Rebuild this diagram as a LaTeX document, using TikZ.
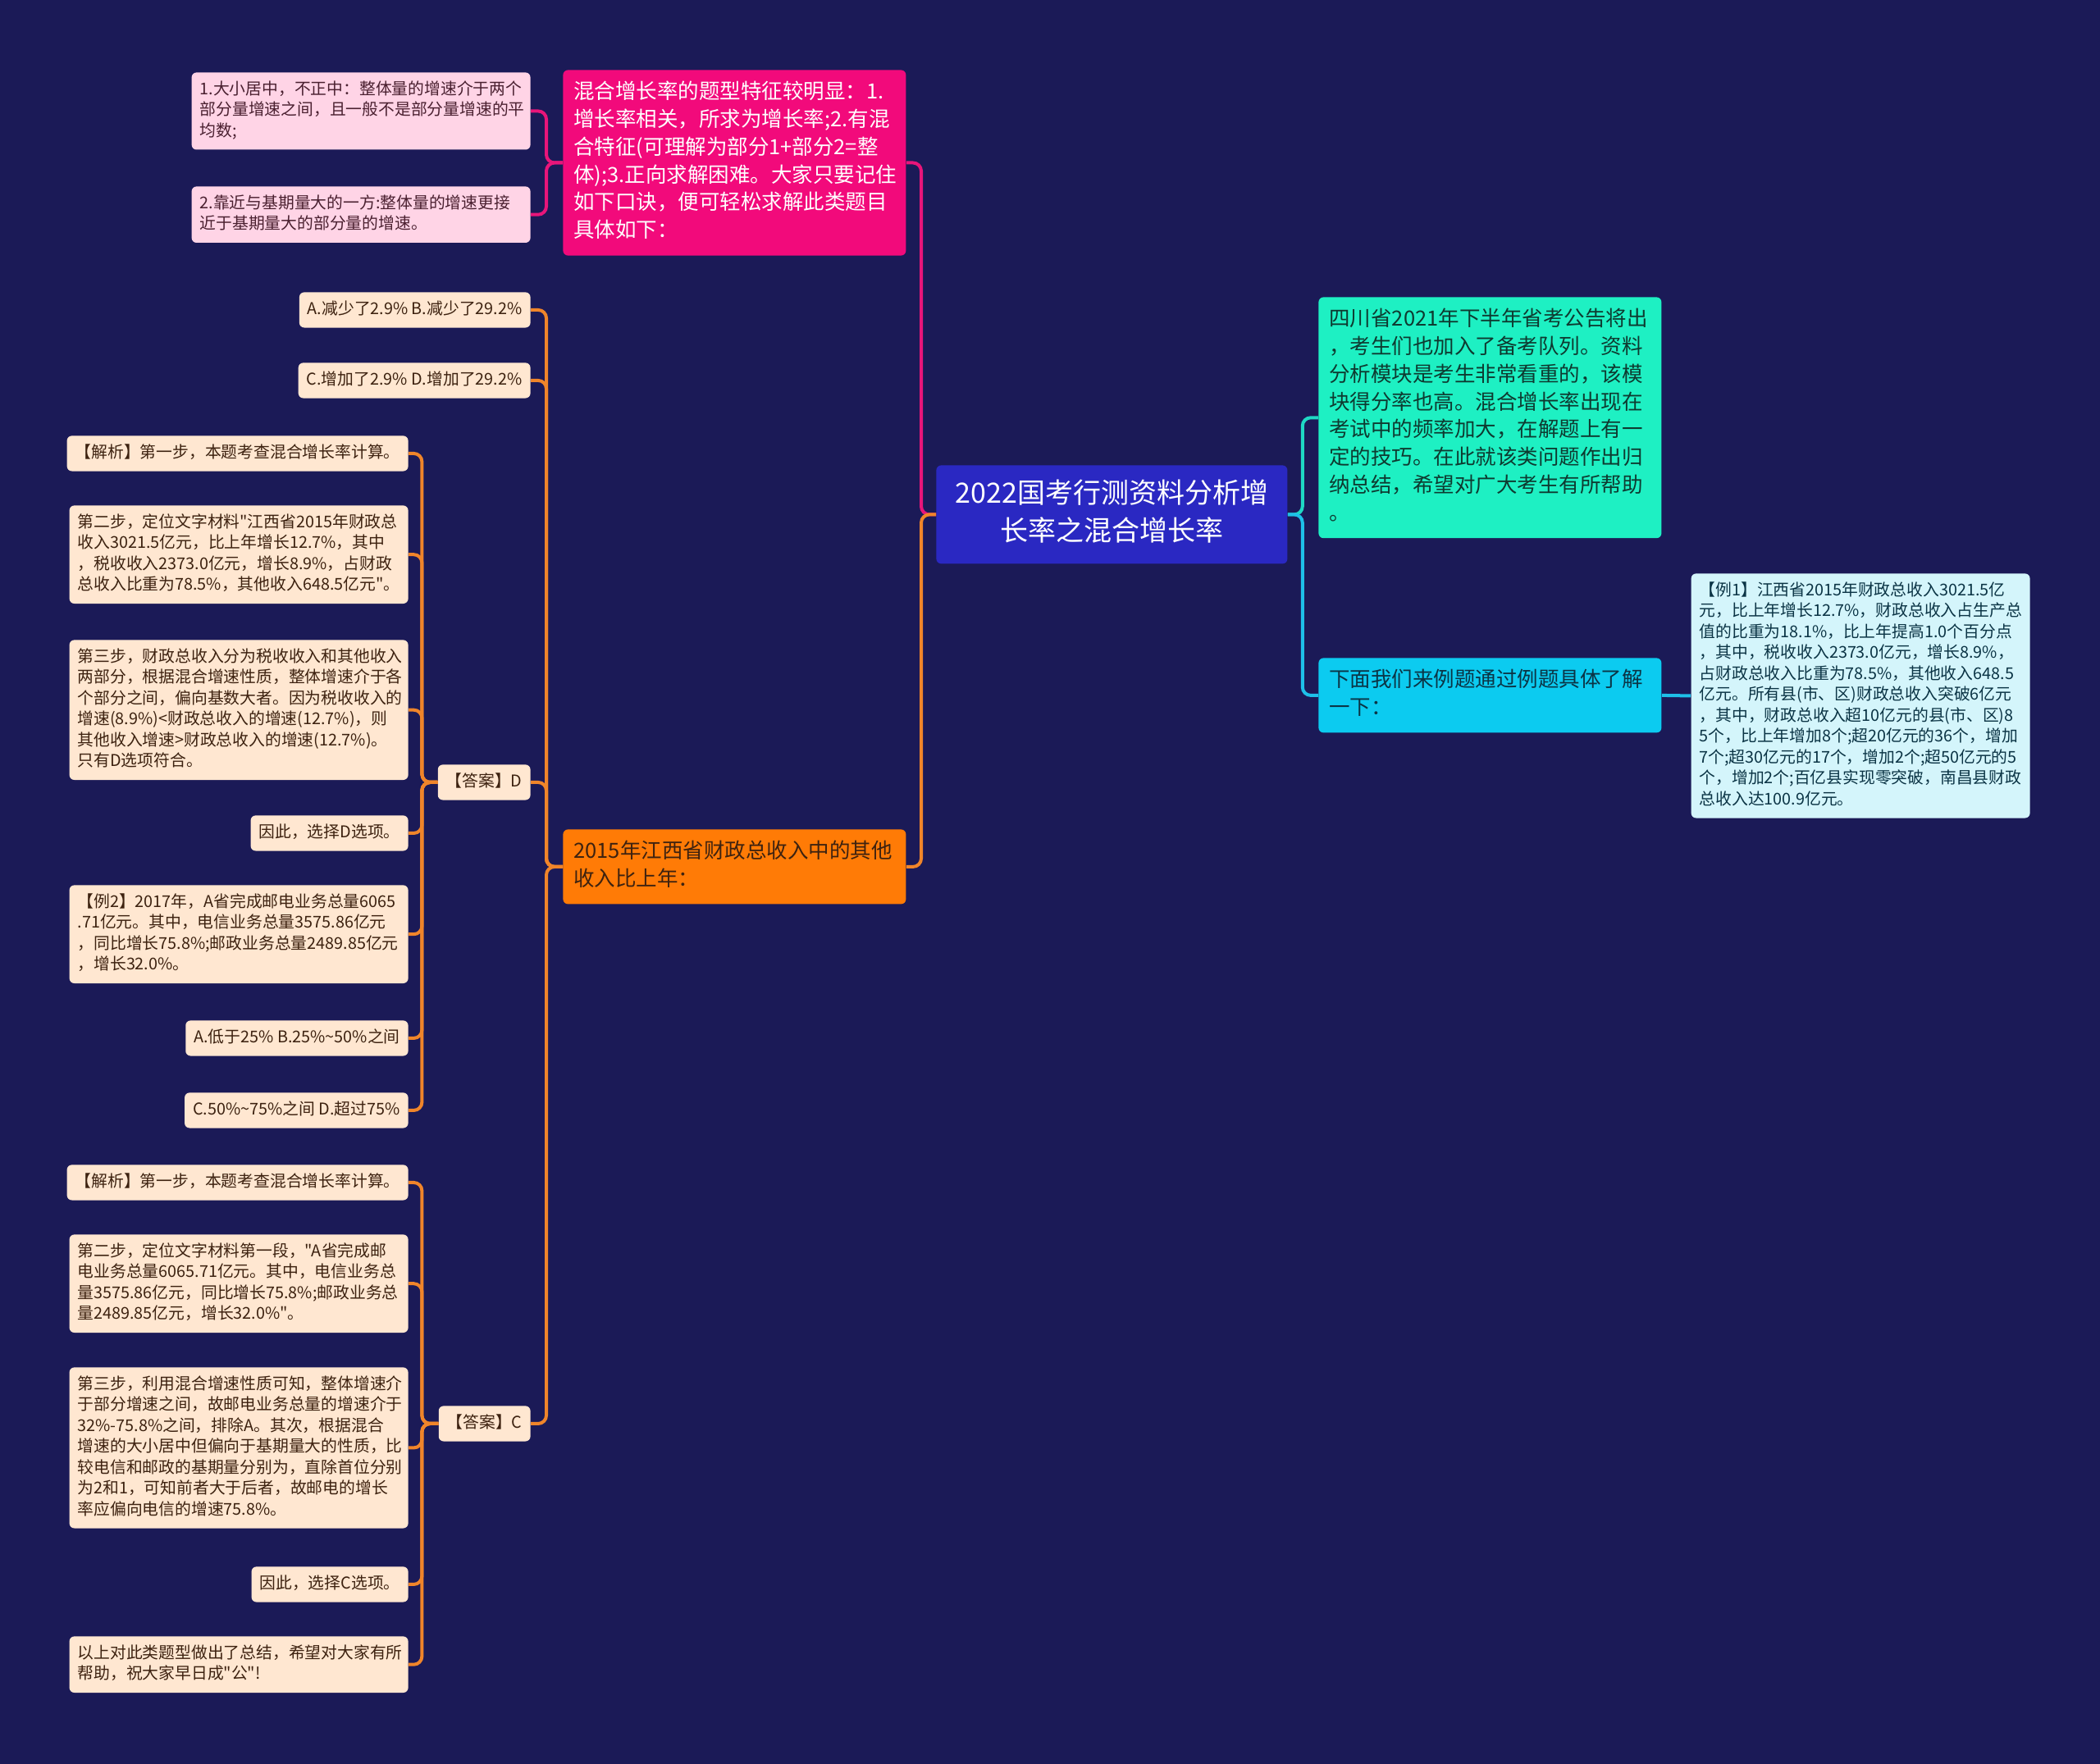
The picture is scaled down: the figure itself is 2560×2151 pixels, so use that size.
\documentclass[tikz,border=0pt]{standalone}
\usepackage{fontspec}
\setmainfont{Noto Sans CJK SC}[Ligatures=TeXOff]
\usepackage{xcolor}
\usepackage{tikz}

\definecolor{bgnavy}{HTML}{1B1A57}
\definecolor{rootblue}{HTML}{2A28C2}
\definecolor{hotpink}{HTML}{F20A7B}
\definecolor{palepink}{HTML}{FFD4E6}
\definecolor{deeporange}{HTML}{FF7B06}
\definecolor{peach}{HTML}{FFE7D1}
\definecolor{aqua}{HTML}{1EF0C3}
\definecolor{skyblue}{HTML}{0CCBF0}
\definecolor{icecyan}{HTML}{D4F5FB}
\definecolor{darkbrown}{HTML}{3D2210}
\definecolor{darkplum}{HTML}{4A2030}
\definecolor{darkteal}{HTML}{0E3A30}
\definecolor{darksea}{HTML}{0B3445}
\definecolor{pinkline}{HTML}{E8157A}
\definecolor{orangeline}{HTML}{F0852A}
\definecolor{tealline}{HTML}{1FD8C4}
\definecolor{cyanline}{HTML}{1EC0E8}

\begin{document}
\begin{tikzpicture}[
x=0.5pt, y=-0.5pt,
box/.style={rounded corners=3pt, execute at begin node=\strut, execute at end node=\strut},
big/.style={box, anchor=north west, inner xsep=6.5pt, inner ysep=5.85pt, text width=196pt, align=left, font=\fontsize{12.75pt}{16.9pt}\selectfont},
note/.style={box, anchor=north east, inner xsep=5pt, inner ysep=4.4pt, text width=196.5pt, align=left, font=\fontsize{9.9pt}{12.75pt}\selectfont},
tag/.style={box, anchor=north east, fill=peach, text=darkbrown, inner xsep=5pt, inner ysep=4.4pt, font=\fontsize{9.9pt}{12.75pt}\selectfont},
link/.style={line width=2pt, rounded corners=5pt}
]

\useasboundingbox (0,0) rectangle (2560,2151);
\fill[bgnavy] (0,0) rectangle (2560,2151);

% Centre
\node[box, anchor=north west, fill=rootblue, text=white, inner xsep=7pt, inner ysep=7.15pt, text width=200pt, align=center, font=\fontsize{17pt}{22.85pt}\selectfont] (root) at (1141,567) {2022国考行测资料分析增\\长率之混合增长率};

% Left branches
\node[big, fill=hotpink, text=white] (feature) at (686,85) {混合增长率的题型特征较明显：1.\\增长率相关，所求为增长率;2.有混\\合特征(可理解为部分1+部分2=整\\体);3.正向求解困难。大家只要记住\\如下口诀，便可轻松求解此类题目\\具体如下：};
\node[note, fill=palepink, text=darkplum] (rule1) at (647,88) {1.大小居中，不正中：整体量的增速介于两个\\部分量增速之间，且一般不是部分量增速的平\\均数;};
\node[note, fill=palepink, text=darkplum] (rule2) at (647,227) {2.靠近与基期量大的一方:整体量的增速更接\\近于基期量大的部分量的增速。};

\node[big, fill=deeporange, text=darkbrown] (other) at (686,1011) {2015年江西省财政总收入中的其他\\收入比上年：};
\node[tag] (optab) at (647,356) {A.减少了2.9\% B.减少了29.2\%};
\node[tag] (optcd) at (647,442) {C.增加了2.9\% D.增加了29.2\%};
\node[tag] (ansd) at (647,932) {【答案】D};
\node[tag] (ansc) at (647,1714) {【答案】C};

% Answer D
\node[tag] (dstep1) at (498,531) {【解析】第一步，本题考查混合增长率计算。};
\node[note, fill=peach, text=darkbrown] (dstep2) at (498,616) {第二步，定位文字材料"江西省2015年财政总\\收入3021.5亿元，比上年增长12.7\%，其中\\，税收收入2373.0亿元，增长8.9\%，占财政\\总收入比重为78.5\%，其他收入648.5亿元"。};
\node[note, fill=peach, text=darkbrown] (dstep3) at (498,780) {第三步，财政总收入分为税收收入和其他收入\\两部分，根据混合增速性质，整体增速介于各\\个部分之间，偏向基数大者。因为税收收入的\\增速(8.9\%)<财政总收入的增速(12.7\%)，则\\其他收入增速>财政总收入的增速(12.7\%)。\\只有D选项符合。};
\node[tag] (dpick) at (498,994) {因此，选择D选项。};
\node[note, fill=peach, text=darkbrown] (example2) at (498,1079) {【例2】2017年，A省完成邮电业务总量6065\\.71亿元。其中，电信业务总量3575.86亿元\\，同比增长75.8\%;邮政业务总量2489.85亿元\\，增长32.0\%。};
\node[tag] (ex2ab) at (498,1244) {A.低于25\% B.25\%\textasciitilde50\%之间};
\node[tag] (ex2cd) at (498,1332) {C.50\%\textasciitilde75\%之间 D.超过75\%};

% Answer C
\node[tag] (cstep1) at (498,1420) {【解析】第一步，本题考查混合增长率计算。};
\node[note, fill=peach, text=darkbrown] (cstep2) at (498,1505) {第二步，定位文字材料第一段，"A省完成邮\\电业务总量6065.71亿元。其中，电信业务总\\量3575.86亿元，同比增长75.8\%;邮政业务总\\量2489.85亿元，增长32.0\%"。};
\node[note, fill=peach, text=darkbrown] (cstep3) at (498,1667) {第三步，利用混合增速性质可知，整体增速介\\于部分增速之间，故邮电业务总量的增速介于\\32\%-75.8\%之间，排除A。其次，根据混合\\增速的大小居中但偏向于基期量大的性质，比\\较电信和邮政的基期量分别为，直除首位分别\\为2和1，可知前者大于后者，故邮电的增长\\率应偏向电信的增速75.8\%。};
\node[tag] (cpick) at (498,1910) {因此，选择C选项。};
\node[note, fill=peach, text=darkbrown] (summary) at (498,1995) {以上对此类题型做出了总结，希望对大家有所\\帮助，祝大家早日成"公"!};

% Right branches
\node[big, fill=aqua, text=darkteal] (intro) at (1607,362) {四川省2021年下半年省考公告将出\\，考生们也加入了备考队列。资料\\分析模块是考生非常看重的，该模\\块得分率也高。混合增长率出现在\\考试中的频率加大，在解题上有一\\定的技巧。在此就该类问题作出归\\纳总结，希望对广大考生有所帮助\\。};
\node[big, fill=skyblue, text=darksea] (lead) at (1607,802) {下面我们来例题通过例题具体了解\\一下：};
\node[note, fill=icecyan, text=darksea] (example1) at (2475,699) {【例1】江西省2015年财政总收入3021.5亿\\元，比上年增长12.7\%，财政总收入占生产总\\值的比重为18.1\%，比上年提高1.0个百分点\\，其中，税收收入2373.0亿元，增长8.9\%，\\占财政总收入比重为78.5\%，其他收入648.5\\亿元。所有县(市、区)财政总收入突破6亿元\\，其中，财政总收入超10亿元的县(市、区)8\\5个，比上年增加8个;超20亿元的36个，增加\\7个;超30亿元的17个，增加2个;超50亿元的5\\个，增加2个;百亿县实现零突破，南昌县财政\\总收入达100.9亿元。};

% Links
\draw[link, pinkline] (root.west) -- ++(-18,0) |- (feature.east);
\draw[link, orangeline] (root.west) -- ++(-18,0) |- (other.east);
\draw[link, tealline] (root.east) -- ++(18,0) |- (intro.west);
\draw[link, cyanline] (root.east) -- ++(18,0) |- (lead.west);
\draw[link, cyanline] (lead.east) -- (example1.west);

\draw[link, pinkline] (feature.west) -- ++(-20,0) |- (rule1.east);
\draw[link, pinkline] (feature.west) -- ++(-20,0) |- (rule2.east);

\draw[link, orangeline] (other.west) -- ++(-20,0) |- (optab.east);
\draw[link, orangeline] (other.west) -- ++(-20,0) |- (optcd.east);
\draw[link, orangeline] (other.west) -- ++(-20,0) |- (ansd.east);
\draw[link, orangeline] (other.west) -- ++(-20,0) |- (ansc.east);

\draw[link, orangeline] (ansd.west) -- ++(-19,0) |- (dstep1.east);
\draw[link, orangeline] (ansd.west) -- ++(-19,0) |- (dstep2.east);
\draw[link, orangeline] (ansd.west) -- ++(-19,0) |- (dstep3.east);
\draw[link, orangeline] (ansd.west) -- ++(-19,0) |- (dpick.east);
\draw[link, orangeline] (ansd.west) -- ++(-19,0) |- (example2.east);
\draw[link, orangeline] (ansd.west) -- ++(-19,0) |- (ex2ab.east);
\draw[link, orangeline] (ansd.west) -- ++(-19,0) |- (ex2cd.east);

\draw[link, orangeline] (ansc.west) -- ++(-20,0) |- (cstep1.east);
\draw[link, orangeline] (ansc.west) -- ++(-20,0) |- (cstep2.east);
\draw[link, orangeline] (ansc.west) -- ++(-20,0) |- (cstep3.east);
\draw[link, orangeline] (ansc.west) -- ++(-20,0) |- (cpick.east);
\draw[link, orangeline] (ansc.west) -- ++(-20,0) |- (summary.east);

\end{tikzpicture}
\end{document}
